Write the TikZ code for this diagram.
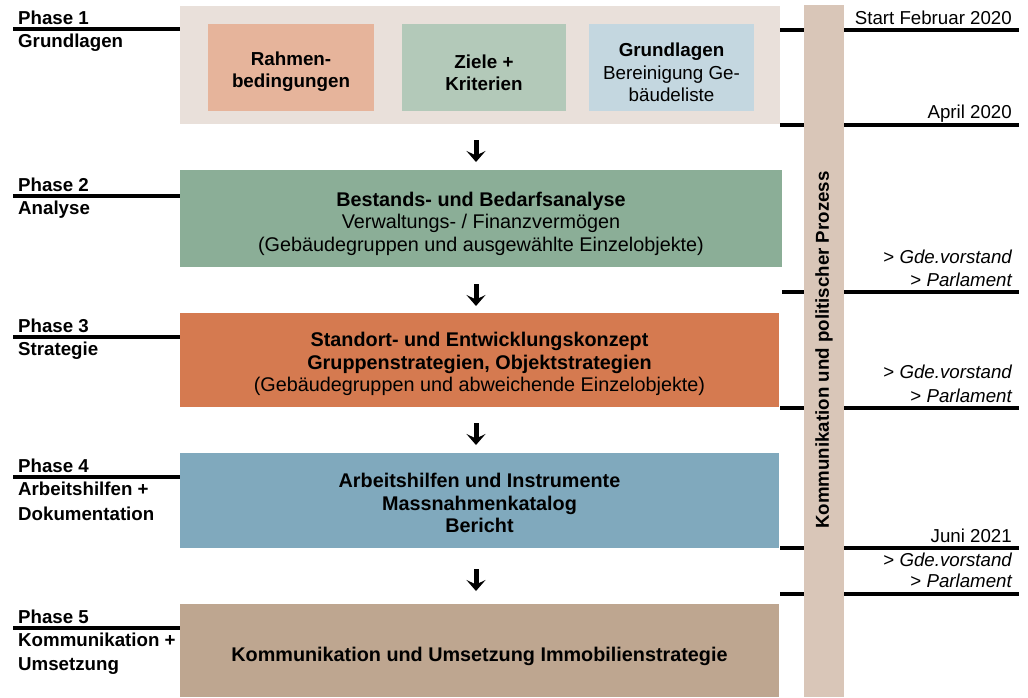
\documentclass[tikz,border=0pt]{standalone}
\usepackage{fontspec}
\setmainfont{Liberation Sans}
\usetikzlibrary{positioning}
\usetikzlibrary{arrows.meta}
\usepackage{xcolor}

\definecolor{grundfarbe}{HTML}{E9E0DA}
\definecolor{rahmenfarbe}{HTML}{E6B49B}
\definecolor{zielfarbe}{HTML}{B3C9B9}
\definecolor{glfarbe}{HTML}{C4D7E0}
\definecolor{analysefarbe}{HTML}{8BAE97}
\definecolor{strategiefarbe}{HTML}{D57A50}
\definecolor{hilfenfarbe}{HTML}{80A9BD}
\definecolor{umsetzfarbe}{HTML}{BEA690}
\definecolor{balkenfarbe}{HTML}{D9C6B8}

\begin{document}
\begin{tikzpicture}[x=1pt, y=-1pt,
  txt/.style={font=\fontsize{18.7}{22.5}\selectfont, inner sep=0pt},
  box/.style={inner sep=0pt},
  big/.style={font=\fontsize{19.8}{22.5}\selectfont, inner sep=0pt, align=center},
  small/.style={font=\fontsize{18.8}{22.5}\selectfont, inner sep=0pt, align=center},
  rule/.style={black, line width=3.4pt},
  pfeil/.style={black, line width=5pt, -{Stealth[length=11pt,width=19pt,inset=4.5pt]}}]

\useasboundingbox (0,0) rectangle (1028,697);

\begin{scope}{
% phase 1
\node[box, fill=grundfarbe, minimum width=600, minimum height=118] (ph1) at (480,65) {};

\node[box, fill=rahmenfarbe, minimum width=166, minimum height=87] (rb) at (291,67) {};
\node[box, fill=zielfarbe, minimum width=164, minimum height=87] (zk) at (484,67.5) {};
\node[box, fill=glfarbe, minimum width=165, minimum height=87] (gl) at (671.5,67.5) {};

\node[small] (rbt) at (291,71.6) {\bfseries Rahmen-\\\bfseries bedingungen};
\node[small] (zkt) at (484,73) {\bfseries Ziele +\\\bfseries Kriterien};
\node[small] (glt) at (671.5,72.3) {\bfseries Grundlagen\\Bereinigung Ge-\\bäudeliste};

% phase 2 bis 5
\node[box, fill=analysefarbe, minimum width=602, minimum height=97] (ph2) at (481,218.5) {};
\node[big] (ph2t) at (481,223.5)
{\bfseries Bestands- und Bedarfsanalyse\\Verwaltungs- / Finanzvermögen\\(Gebäudegruppen und ausgewählte Einzelobjekte)};

\node[box, fill=strategiefarbe, minimum width=599, minimum height=94] (ph3) at (479.5,360) {};
\node[big] (ph3t) at (479.5,364)
{\bfseries Standort- und Entwicklungskonzept\\\bfseries Gruppenstrategien, Objektstrategien\\(Gebäudegruppen und abweichende Einzelobjekte)};

\node[box, fill=hilfenfarbe, minimum width=599, minimum height=95] (ph4) at (479.5,500.5) {};
\node[big] (ph4t) at (479.5,503)
{\bfseries Arbeitshilfen und Instrumente\\\bfseries Massnahmenkatalog\\\bfseries Bericht};

\node[box, fill=umsetzfarbe, minimum width=599, minimum height=93] (ph5) at (479.5,650.5) {};
\node[big] (ph5t) at (479.5,656)
{\bfseries Kommunikation und Umsetzung Immobilienstrategie};

% balken rechts
\node[box, fill=balkenfarbe, minimum width=40, minimum height=692] (kom) at (824,351) {};
\node[txt, rotate=90] (komt) at (824,350) {\bfseries Kommunikation und politischer Prozess};

} \end{scope}

% pfeile
{
\coordinate (a1) at (476,140);
\coordinate (b1) at (476,162);
\coordinate (a2) at (476,284);
\coordinate (b2) at (476,306);
\coordinate (a3) at (476,423);
\coordinate (b3) at (476,445);
\coordinate (a4) at (476,569);
\coordinate (b4) at (476,591);

\draw[pfeil] (a1) -- (b1);
\draw[pfeil] (a2) -- (b2);
\draw[pfeil] (a3) -- (b3);
\draw[pfeil] (a4) -- (b4);
}

% black lines
{
\draw[rule] (13,29)--(ph1.west |- 0,29);
\draw[rule] (13,196)--(ph2.west |- 0,196);
\draw[rule] (13,337)--(ph3.west |- 0,337);
\draw[rule] (13,477)--(ph4.west |- 0,477);
\draw[rule] (13,628)--(ph5.west |- 0,628);

\draw[rule] (780,30)--(kom.west |- 0,30);
\draw[rule] (kom.east |- 0,30)--(1019,30);
\draw[rule] (780,125)--(kom.west |- 0,125);
\draw[rule] (kom.east |- 0,125)--(1019,125);
\draw[rule] (782,292)--(kom.west |- 0,292);
\draw[rule] (kom.east |- 0,292)--(1019,292);
\draw[rule] (780,408)--(kom.west |- 0,408);
\draw[rule] (kom.east |- 0,408)--(1019,408);
\draw[rule] (780,548)--(kom.west |- 0,548);
\draw[rule] (kom.east |- 0,548)--(1019,548);
\draw[rule] (780,594)--(kom.west |- 0,594);
\draw[rule] (kom.east |- 0,594)--(1019,594);
}

% nodes
{
\node[txt, anchor=base west] (p1) at (18,24) {\bfseries Phase 1};
\node[txt, anchor=base west] (p1t) at (18,47) {\bfseries Grundlagen};

\node[txt, anchor=base west] (p2) at (18,191) {\bfseries Phase 2};
\node[txt, anchor=base west] (p2t) at (18,214) {\bfseries Analyse};

\node[txt, anchor=base west] (p3) at (18,332) {\bfseries Phase 3};
\node[txt, anchor=base west] (p3t) at (18,355) {\bfseries Strategie};

\node[txt, anchor=base west] (p4) at (18,472) {\bfseries Phase 4};
\node[txt, anchor=base west] (p4t) at (18,495) {\bfseries Arbeitshilfen +};
\node[txt, anchor=base west] (p4u) at (18,520) {\bfseries Dokumentation};

\node[txt, anchor=base west] (p5) at (18,623) {\bfseries Phase 5};
\node[txt, anchor=base west] (p5t) at (18,646) {\bfseries Kommunikation +};
\node[txt, anchor=base west] (p5u) at (18,670) {\bfseries Umsetzung};

\node[txt, anchor=base east] (d1) at (1012,24) {Start Februar 2020};
\node[txt, anchor=base east] (d2) at (1012,118) {April 2020};
\node[txt, anchor=base east] (g1) at (1012,263) {> \itshape Gde.vorstand};
\node[txt, anchor=base east] (g1p) at (1012,286) {> \itshape Parlament};
\node[txt, anchor=base east] (g2) at (1012,378) {> \itshape Gde.vorstand};
\node[txt, anchor=base east] (g2p) at (1012,402) {> \itshape Parlament};
\node[txt, anchor=base east] (d3) at (1012,542) {Juni 2021};
\node[txt, anchor=base east] (g3) at (1012,566) {> \itshape Gde.vorstand};
\node[txt, anchor=base east] (g3p) at (1012,587) {> \itshape Parlament};
}

\end{tikzpicture}
\end{document}
